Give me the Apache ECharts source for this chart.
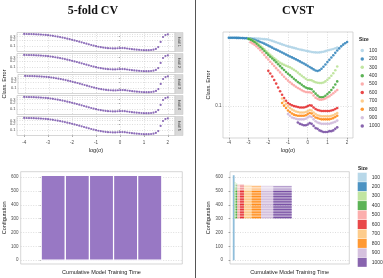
<!DOCTYPE html>
<html lang="en">
<head>
    <meta charset="UTF-8">
    <title>5-fold CV vs CVST</title>
    <style>
        html, body { margin: 0; padding: 0; background: #fff; }
        #main { width: 383px; height: 278px; }
    </style>
</head>
<body>
<div id="main"></div>
<script src="https://cdn.jsdelivr.net/npm/echarts@6/dist/echarts.min.js"></script>
<script>
    // ---- data ----
    const logSigma = [-4.0, -3.9, -3.8, -3.7, -3.6, -3.5, -3.4, -3.3, -3.2, -3.1,
        -3.0, -2.9, -2.8, -2.7, -2.6, -2.5, -2.4, -2.3, -2.2, -2.1,
        -2.0, -1.9, -1.8, -1.7, -1.6, -1.5, -1.4, -1.3, -1.2, -1.1,
        -1.0, -0.9, -0.8, -0.7, -0.6, -0.5, -0.4, -0.3, -0.2, -0.1,
        0.0, 0.1, 0.2, 0.3, 0.4, 0.5, 0.6, 0.7, 0.8, 0.9,
        1.0, 1.1, 1.2, 1.3, 1.4, 1.5, 1.6, 1.7, 1.8, 1.9, 2.0];
    const sigmaTicks = [-4, -3, -2, -1, 0, 1, 2];

    const foldNames = ['fold 1', 'fold 2', 'fold 3', 'fold 4', 'fold 5'];
    // classification error per log(sigma), same curve in every fold
    const cvError = [0.420, 0.418, 0.415, 0.412, 0.408, 0.403, 0.397, 0.390, 0.381, 0.371,
        0.360, 0.347, 0.333, 0.318, 0.302, 0.286, 0.270, 0.254, 0.238, 0.222,
        0.207, 0.192, 0.178, 0.165, 0.152, 0.140, 0.129, 0.119, 0.110, 0.102,
        0.095, 0.089, 0.084, 0.080, 0.077, 0.075, 0.074, 0.073, 0.073, 0.074,
        0.075, 0.076, 0.075, 0.072, 0.069, 0.066, 0.064, 0.062, 0.061, 0.060,
        0.059, 0.059, 0.059, 0.060, 0.062, 0.068, 0.085, 0.160, 0.290, 0.370, 0.400];
    const cvErrorTicks = [0.1, 0.2, 0.3, 0.4];

    const sizes = ['100', '200', '300', '400', '500', '600', '700', '800', '900', '1000'];
    const sizeColors = ['#a6cee3', '#1f78b4', '#b2df8a', '#33a02c', '#fb9a99', '#e31a1c', '#fdbf6f', '#ff7f00', '#cab2d6', '#6a3d9a'];
    // first log(sigma) of each size's curve
    const cvstStart = [-4.0, -4.0, -3.0, -3.0, -2.9, -2.0, -1.3, -1.3, -1.0, -0.5];
    const err100 = [0.440, 0.440, 0.440, 0.440, 0.440, 0.439, 0.439, 0.439, 0.438, 0.438, 0.437,
        0.437, 0.436, 0.435, 0.434, 0.433, 0.432, 0.430, 0.428, 0.426, 0.424,
        0.418, 0.412, 0.406, 0.400, 0.394, 0.388, 0.382, 0.377, 0.371, 0.366,
        0.362, 0.358, 0.354, 0.350, 0.346, 0.342, 0.339, 0.336, 0.333, 0.330,
        0.327, 0.324, 0.322, 0.321, 0.320, 0.321, 0.323, 0.326, 0.330, 0.334,
        0.338, 0.342, 0.346, 0.351, 0.356];
    const err200 = [0.442, 0.442, 0.441, 0.441, 0.440, 0.440, 0.439, 0.438, 0.437, 0.436, 0.434,
        0.431, 0.427, 0.422, 0.416, 0.410, 0.403, 0.396, 0.388, 0.380, 0.372,
        0.364, 0.356, 0.348, 0.341, 0.334, 0.327, 0.320, 0.313, 0.306, 0.300,
        0.294, 0.288, 0.282, 0.276, 0.270, 0.264, 0.258, 0.252, 0.246, 0.240,
        0.234, 0.228, 0.222, 0.217, 0.214, 0.218, 0.225, 0.235, 0.247, 0.260,
        0.273, 0.287, 0.302, 0.318, 0.334, 0.350, 0.366, 0.380, 0.392, 0.402];
    const err300 = [0.434, 0.428, 0.420, 0.410, 0.398, 0.385, 0.371, 0.357, 0.343, 0.329, 0.316,
        0.304, 0.293, 0.283, 0.273, 0.264, 0.256, 0.250, 0.245, 0.240, 0.236,
        0.232, 0.226, 0.220, 0.214, 0.207, 0.200, 0.193, 0.187, 0.181, 0.176,
        0.176, 0.175, 0.171, 0.168, 0.166, 0.165, 0.165, 0.167, 0.171, 0.177,
        0.184, 0.193, 0.204, 0.218, 0.236];
    const err400 = [0.430, 0.422, 0.412, 0.400, 0.387, 0.373, 0.359, 0.345, 0.331, 0.317, 0.304,
        0.292, 0.281, 0.270, 0.259, 0.248, 0.238, 0.228, 0.219, 0.210, 0.202,
        0.195, 0.188, 0.181, 0.175, 0.169, 0.164, 0.159, 0.154, 0.150, 0.147,
        0.146, 0.144, 0.137, 0.131, 0.126, 0.122, 0.121, 0.122, 0.125, 0.130,
        0.135, 0.142, 0.150, 0.160, 0.171];
    const err500 = [0.400, 0.390, 0.380, 0.366, 0.351, 0.336, 0.320, 0.304, 0.288, 0.275,
        0.262, 0.250, 0.239, 0.228, 0.218, 0.208, 0.198, 0.189, 0.181, 0.174,
        0.168, 0.162, 0.157, 0.152, 0.148, 0.145, 0.141, 0.138, 0.136, 0.135,
        0.135, 0.133, 0.126, 0.120, 0.117, 0.115, 0.115, 0.116, 0.118, 0.121,
        0.124, 0.128, 0.132, 0.137, 0.142];
    const err600 = [0.215, 0.203, 0.190, 0.176, 0.163, 0.150, 0.138, 0.128, 0.119, 0.112,
        0.107, 0.104, 0.102, 0.100, 0.099, 0.098, 0.097, 0.097, 0.097, 0.098,
        0.100, 0.102, 0.101, 0.097, 0.094, 0.092, 0.091, 0.090, 0.090, 0.090,
        0.090, 0.090, 0.091, 0.092, 0.094, 0.096];
    const err700 = [0.118, 0.111, 0.105, 0.100, 0.096, 0.093, 0.091, 0.089, 0.088, 0.087,
        0.087, 0.087, 0.088, 0.090, 0.092, 0.091, 0.087, 0.084, 0.082, 0.081,
        0.080, 0.080, 0.080, 0.080, 0.080, 0.081, 0.082, 0.084, 0.086];
    const err800 = [0.107, 0.101, 0.096, 0.091, 0.088, 0.085, 0.083, 0.082, 0.081, 0.081,
        0.081, 0.081, 0.082, 0.084, 0.086, 0.085, 0.081, 0.078, 0.077, 0.076,
        0.075, 0.075, 0.075, 0.075, 0.075, 0.076, 0.077, 0.079, 0.081];
    const err900 = [0.084, 0.081, 0.078, 0.077, 0.076, 0.075, 0.075, 0.075, 0.075, 0.076,
        0.078, 0.080, 0.079, 0.075, 0.072, 0.070, 0.069, 0.068, 0.068, 0.068,
        0.068, 0.068, 0.069, 0.070, 0.071, 0.073];
    const err1000 = [0.070, 0.068, 0.067, 0.066, 0.066, 0.067, 0.069, 0.068, 0.065, 0.062,
        0.061, 0.059, 0.058, 0.057, 0.057, 0.057, 0.058, 0.058, 0.059, 0.061, 0.063];
    const cvstErrors = [err100, err200, err300, err400, err500, err600, err700, err800, err900, err1000];

    // bottom panels: training time blocks per configuration range
    const foldTimeStart = [0, 1, 2, 3, 4];
    const foldTimeEnd = [1, 2, 3, 4, 5];
    const foldConfigs = [614, 614, 614, 614, 614];
    const configTicks = [0, 100, 200, 300, 400, 500, 600];

    const sizeTimeStart = [2.3, 3.1, 3.6, 4.8, 6.1, 8.4, 11.7, 18.2, 26.0, 36.3];
    const sizeTimeEnd = [3.1, 3.6, 4.8, 6.1, 8.4, 11.7, 18.2, 26.0, 36.3, 51.7];
    const sizeCfgLow = [0, 0, 300, 300, 300, 300, 300, 300, 300, 300];
    const sizeCfgSolid = [614, 614, 515, 512, 510, 508, 506, 505, 505, 505];
    const sizeCfgHigh = [614, 614, 560, 555, 550, 548, 545, 540, 540, 538];

    // ---- layout ----
    const FONT = 'Liberation Sans';
    const FOLD_LEFT = 17, FOLD_W = 158, FOLD_TOP = 32.5, FOLD_PITCH = 21, FOLD_H = 19;
    const DOT = { type: [1, 1.5], color: '#c8c8c8', width: 0.6 };
    const BORDER = '#c4c4c4';

    function sigmaAxis(grid, showLabels, nameGap, margin) {
        return {
            type: 'value', gridIndex: grid, min: -4.3, max: 2.3,
            axisLine: { show: false },
            axisTick: { show: showLabels, length: 1.5, customValues: sigmaTicks, lineStyle: { color: '#555', width: 0.5 } },
            axisLabel: { show: showLabels, customValues: sigmaTicks, fontSize: 4.5, color: '#4d4d4d', margin: margin, fontFamily: FONT },
            splitLine: { show: true, lineStyle: DOT },
            name: showLabels ? 'log(σ)' : '', nameLocation: 'middle', nameGap: nameGap,
            nameTextStyle: { fontSize: 5.5, color: '#222', fontFamily: FONT }
        };
    }

    function errorAxis(grid, ticks, name, nameGap, fontSize) {
        return {
            type: 'log', logBase: 10, gridIndex: grid, min: 0.05, max: 0.5,
            axisLine: { show: false },
            axisTick: { show: true, length: 1.2, customValues: ticks, lineStyle: { color: '#555', width: 0.5 } },
            axisLabel: {
                customValues: ticks, fontSize: fontSize, color: '#4d4d4d', margin: 1.5, fontFamily: FONT,
                formatter: v => String(+(+v).toFixed(2))
            },
            splitLine: { show: true, lineStyle: DOT },
            name: name, nameLocation: 'middle', nameGap: nameGap,
            nameTextStyle: { fontSize: 5.5, color: '#222', fontFamily: FONT }
        };
    }

    function configAxis(grid, margin, nameGap) {
        return {
            type: 'value', gridIndex: grid, min: -28, max: 640,
            axisLine: { show: false },
            axisTick: { show: true, length: 1.5, customValues: configTicks, lineStyle: { color: '#555', width: 0.5 } },
            axisLabel: { customValues: configTicks, fontSize: 4.5, color: '#4d4d4d', margin: margin, fontFamily: FONT },
            splitLine: { show: true, lineStyle: DOT },
            name: 'Configuration', nameLocation: 'middle', nameGap: nameGap,
            nameTextStyle: { fontSize: 5.5, color: '#222', fontFamily: FONT }
        };
    }

    function timeAxis(grid, min, max) {
        return {
            type: 'value', gridIndex: grid, min: min, max: max,
            axisLine: { show: false }, axisTick: { show: false }, axisLabel: { show: false },
            splitLine: { show: false },
            name: 'Cumulative Model Training Time', nameLocation: 'middle', nameGap: 5,
            nameTextStyle: { fontSize: 5.5, color: '#222', fontFamily: FONT }
        };
    }

    function renderBlock(params, api) {
        const a = api.coord([api.value(0), api.value(2)]);
        const b = api.coord([api.value(1), api.value(3)]);
        return {
            type: 'rect',
            shape: { x: a[0], y: b[1], width: b[0] - a[0], height: a[1] - b[1] },
            style: { fill: api.visual('color'), stroke: '#fff', lineWidth: 1.2 }
        };
    }

    // one line per config row looks striped at this scale
    function stripes(x, w, yTop, yBottom, color, opacity) {
        const out = [];
        for (let y = yBottom - 0.8; y > yTop; y -= 2.6) {
            out.push({ type: 'rect', shape: { x: x, y: y - 0.9, width: w, height: 0.9 }, style: { fill: color, opacity: opacity } });
        }
        return out;
    }

    function renderSizeBlock(params, api) {
        const a = api.coord([api.value(0), api.value(2)]);
        const b = api.coord([api.value(1), api.value(3)]);
        const c = api.coord([api.value(1), api.value(4)]);
        const color = api.visual('color');
        const w = b[0] - a[0];
        if (api.value(2) === 0) {
            return { type: 'rect', shape: { x: a[0], y: c[1], width: w, height: a[1] - c[1] }, style: { fill: color } };
        }
        const children = [
            { type: 'rect', shape: { x: a[0], y: b[1], width: w, height: a[1] - b[1] }, style: { fill: color, opacity: 0.5 } },
            { type: 'rect', shape: { x: a[0], y: c[1], width: w, height: b[1] - c[1] }, style: { fill: color, opacity: 0.25 } }
        ];
        return {
            type: 'group',
            children: children
                .concat(stripes(a[0], w, b[1], a[1], color, 0.9))
                .concat(stripes(a[0], w, c[1], b[1], color, 0.35))
        };
    }

    function load() {
        const grid = [], xAxis = [], yAxis = [], series = [], graphics = [];

        // top left: 5-fold CV facets
        foldNames.forEach((fold, f) => {
            const top = FOLD_TOP + f * FOLD_PITCH;
            grid.push({ left: FOLD_LEFT, top: top, width: FOLD_W, height: FOLD_H, show: true, borderColor: BORDER, borderWidth: 0.7, backgroundColor: '#fff' });
            xAxis.push(sigmaAxis(f, f === foldNames.length - 1, 12, 5));
            yAxis.push(errorAxis(f, cvErrorTicks, f === 2 ? 'Class. Error' : '', 9, 4));
            series.push({
                type: 'scatter', xAxisIndex: f, yAxisIndex: f, symbolSize: 2.2, silent: true,
                itemStyle: { color: '#6f47a6' },
                data: logSigma.map((x, i) => [x, cvError[i]])
            });
            graphics.push({
                type: 'rect', shape: { x: FOLD_LEFT + FOLD_W, y: top, width: 8, height: FOLD_H },
                style: { fill: '#d9d9d9', stroke: '#c4c4c4', lineWidth: 0.5 }
            });
            graphics.push({
                type: 'text', x: FOLD_LEFT + FOLD_W + 4, y: top + FOLD_H / 2, rotation: -Math.PI / 2,
                style: { text: fold, align: 'center', verticalAlign: 'middle', textAlign: 'center', textVerticalAlign: 'middle', fontSize: 4, fontFamily: FONT, fill: '#333' }
            });
        });

        // top right: CVST curves
        grid.push({ left: 223, top: 32, width: 130, height: 106, show: true, borderColor: BORDER, borderWidth: 0.7, backgroundColor: '#fff' });
        xAxis.push(sigmaAxis(5, true, 9, 2));
        yAxis.push(errorAxis(5, [0.1], 'Class. Error', 10, 4.5));
        sizes.forEach((s, k) => {
            const first = logSigma.findIndex(x => Math.abs(x - cvstStart[k]) < 1e-9);
            series.push({
                name: s, type: 'scatter', xAxisIndex: 5, yAxisIndex: 5, symbolSize: 2.6, silent: true,
                itemStyle: { color: sizeColors[k] },
                data: cvstErrors[k].map((v, i) => [logSigma[first + i], v])
            });
        });

        // bottom left: 5-fold training blocks
        grid.push({ left: 17.3, top: 171.7, width: 165, height: 92.3, show: true, borderColor: BORDER, borderWidth: 0.7, backgroundColor: '#fff' });
        xAxis.push(timeAxis(6, -0.85, 5.85));
        yAxis.push(configAxis(6, 2.3, 12));
        series.push({
            type: 'custom', xAxisIndex: 6, yAxisIndex: 6, silent: true, renderItem: renderBlock,
            itemStyle: { color: '#9878c4' },
            encode: { x: [0, 1], y: [2, 3] },
            data: foldTimeStart.map((t, i) => [t, foldTimeEnd[i], 0, foldConfigs[i]])
        });

        // bottom right: CVST training blocks
        grid.push({ left: 230, top: 171.7, width: 119.3, height: 92.3, show: true, borderColor: BORDER, borderWidth: 0.7, backgroundColor: '#fff' });
        xAxis.push(timeAxis(7, 0, 100));
        yAxis.push(configAxis(7, 7, 17));
        sizes.forEach((s, k) => {
            series.push({
                name: s, type: 'custom', xAxisIndex: 7, yAxisIndex: 7, silent: true, renderItem: renderSizeBlock,
                itemStyle: { color: sizeColors[k] },
                encode: { x: [0, 1], y: [2, 3, 4] },
                data: [[sizeTimeStart[k], sizeTimeEnd[k], sizeCfgLow[k], sizeCfgSolid[k], sizeCfgHigh[k]]]
            });
        });

        // titles, separator, legend titles
        graphics.push(
            { type: 'text', x: 93, y: 11, style: { text: '5-fold CV', align: 'center', verticalAlign: 'middle', textAlign: 'center', textVerticalAlign: 'middle', fontSize: 12, fontWeight: 'bold', fontFamily: 'Liberation Serif', fill: '#111' } },
            { type: 'text', x: 298, y: 11, style: { text: 'CVST', align: 'center', verticalAlign: 'middle', textAlign: 'center', textVerticalAlign: 'middle', fontSize: 12, fontWeight: 'bold', fontFamily: 'Liberation Serif', fill: '#111' } },
            { type: 'line', shape: { x1: 195.5, y1: 0, x2: 195.5, y2: 278 }, style: { stroke: '#555', lineWidth: 1 } },
            { type: 'text', x: 359, y: 40, style: { text: 'Size', align: 'left', verticalAlign: 'middle', textAlign: 'left', textVerticalAlign: 'middle', fontSize: 4.8, fontWeight: 'bold', fontFamily: FONT, fill: '#222' } },
            { type: 'text', x: 358, y: 169, style: { text: 'Size', align: 'left', verticalAlign: 'middle', textAlign: 'left', textVerticalAlign: 'middle', fontSize: 4.8, fontWeight: 'bold', fontFamily: FONT, fill: '#222' } }
        );

        echarts.init(document.getElementById('main')).setOption({
            animation: false,
            backgroundColor: '#fff',
            textStyle: { fontFamily: FONT },
            grid: grid,
            xAxis: xAxis,
            yAxis: yAxis,
            legend: [
                {
                    data: sizes, orient: 'vertical', left: 360.5, top: 47.5, padding: 0, icon: 'circle',
                    itemWidth: 3.5, itemHeight: 3.5, itemGap: 2.4, selectedMode: false,
                    textStyle: { fontSize: 5, lineHeight: 6, color: '#333', fontFamily: FONT }
                },
                {
                    data: sizes, orient: 'vertical', left: 357.7, top: 172.7, padding: 0, icon: 'rect',
                    itemWidth: 9, itemHeight: 9, itemGap: 0.46, selectedMode: false,
                    textStyle: { fontSize: 5, color: '#333', fontFamily: FONT }
                }
            ],
            graphic: { elements: graphics },
            series: series
        });
    }

    window.onload = function () {
        load();
    }
</script>
</body>
</html>
